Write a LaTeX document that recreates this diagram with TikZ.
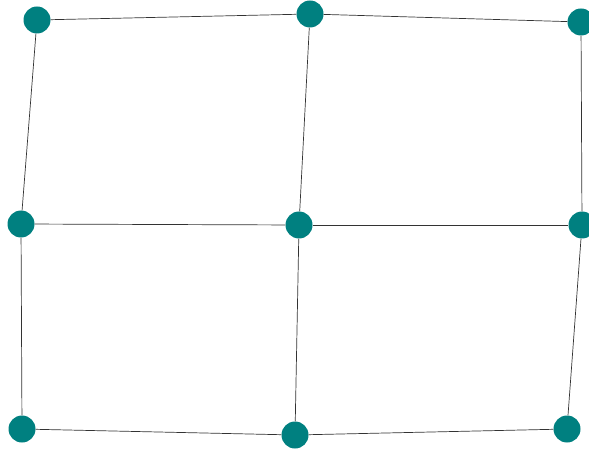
\documentclass[tikz,border=0pt]{standalone}
\usepackage{tikz}
\definecolor{nodeteal}{RGB}{0,128,128}

\begin{document}
\begin{tikzpicture}[x=1pt, y=-1pt, vertex/.style={circle, fill=nodeteal, inner sep=0pt, minimum size=27pt}]
    \useasboundingbox (0,0) rectangle (589,449);
    \node[vertex] (tl) at (37,20) {};
    \node[vertex] (tm) at (310,14) {};
    \node[vertex] (tr) at (581,22) {};
    \node[vertex] (ml) at (21,224) {};
    \node[vertex] (mm) at (299,225) {};
    \node[vertex] (mr) at (582,225) {};
    \node[vertex] (bl) at (22,429) {};
    \node[vertex] (bm) at (295,435) {};
    \node[vertex] (br) at (567,429) {};

    \begin{scope}[line width=0.7pt, draw=black!80]
    \draw (tl) -- (tm); \draw (tm) -- (tr);
    \draw (ml) -- (mm); \draw (mm) -- (mr);
    \draw (bl) -- (bm); \draw (bm) -- (br);
    \draw (tl) -- (ml); \draw (ml) -- (bl);
    \draw (tm) -- (mm); \draw (mm) -- (bm);
    \draw (tr) -- (mr); \draw (mr) -- (br);
    \end{scope}
  \end{tikzpicture}
\end{document}
